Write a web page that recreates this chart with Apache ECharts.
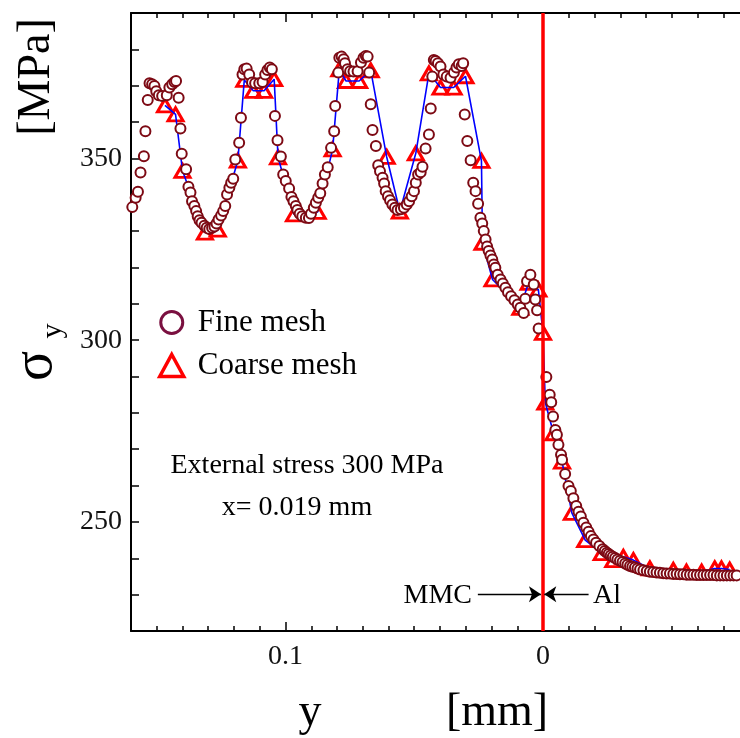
<!DOCTYPE html>
<html>
<head>
<meta charset="utf-8">
<script src="https://cdn.jsdelivr.net/npm/echarts@6/dist/echarts.min.js"></script>
<style>
  html, body { margin: 0; padding: 0; background: #fff; }
  #chart { width: 740px; height: 738px; }
</style>
</head>
<body>
<div id="chart"></div>
<script>
// sigma_y [MPa] versus distance y [mm] from the MMC/Al interface (x = 0.019 mm)
const fineMesh = [
  [0.1595,336.6],[0.1582,339.2],[0.1573,340.8],[0.1563,346.1],[0.1550,350.6],[0.1544,357.5],
  [0.1535,366.1],[0.1528,370.7],[0.1518,370.4],[0.1509,369.9],[0.1502,368.5],[0.1492,367.4],
  [0.1479,367.2],[0.1461,367.4],[0.1451,369.5],[0.1440,370.4],[0.1431,371.0],[0.1425,371.3],
  [0.1415,366.7],[0.1408,358.2],[0.1403,351.3],[0.1386,347.0],[0.1377,342.2],[0.1369,340.6],
  [0.1363,338.2],[0.1354,336.9],[0.1347,335.5],[0.1341,334.1],[0.1334,333.0],[0.1326,332.3],
  [0.1315,331.5],[0.1306,330.9],[0.1296,330.6],[0.1285,330.9],[0.1276,331.3],[0.1268,332.1],
  [0.1260,333.2],[0.1250,334.3],[0.1242,335.5],[0.1234,336.9],[0.1227,340.1],[0.1218,341.9],
  [0.1211,343.3],[0.1203,344.4],[0.1195,349.7],[0.1180,354.3],[0.1173,361.2],[0.1167,373.1],
  [0.1160,374.5],[0.1151,374.7],[0.1141,373.1],[0.1130,370.9],[0.1118,370.7],[0.1102,370.7],
  [0.1089,371.0],[0.1079,373.1],[0.1070,374.3],[0.1061,375.0],[0.1053,374.5],[0.1041,361.7],
  [0.1031,355.0],[0.1018,350.5],[0.1009,345.6],[0.0999,343.8],[0.0986,341.7],[0.0977,339.4],
  [0.0969,338.2],[0.0960,336.9],[0.0954,335.8],[0.0945,334.8],[0.0935,334.1],[0.0921,333.7],
  [0.0909,333.6],[0.0901,334.8],[0.0890,336.4],[0.0882,337.8],[0.0873,339.2],[0.0865,340.4],
  [0.0856,343.1],[0.0847,345.6],[0.0836,347.6],[0.0823,352.9],[0.0811,357.5],[0.0807,364.4],
  [0.0795,373.6],[0.0791,377.7],[0.0782,378.0],[0.0774,377.3],[0.0769,376.2],[0.0759,374.5],
  [0.0749,374.0],[0.0736,373.9],[0.0720,374.0],[0.0707,376.4],[0.0697,377.7],[0.0688,378.2],
  [0.0681,378.0],[0.0675,373.6],[0.0669,364.9],[0.0662,357.8],[0.0649,353.4],[0.0640,348.1],
  [0.0633,346.5],[0.0623,344.7],[0.0617,343.1],[0.0611,341.0],[0.0602,339.6],[0.0594,338.5],
  [0.0585,337.3],[0.0575,336.4],[0.0565,335.8],[0.0552,336.0],[0.0540,336.4],[0.0529,337.3],
  [0.0520,338.2],[0.0510,339.6],[0.0501,341.0],[0.0494,343.3],[0.0485,345.6],[0.0475,346.2],
  [0.0468,347.7],[0.0456,352.7],[0.0443,356.6],[0.0436,363.7],[0.0430,372.5],[0.0424,377.1],
  [0.0417,376.8],[0.0408,376.2],[0.0398,375.3],[0.0387,373.1],[0.0374,372.5],[0.0359,372.2],
  [0.0346,373.6],[0.0336,375.0],[0.0327,375.9],[0.0316,375.4],[0.0310,376.2],[0.0304,362.1],
  [0.0294,354.8],[0.0281,349.5],[0.0271,343.3],[0.0262,341.0],[0.0252,337.5],[0.0243,333.7],
  [0.0236,332.1],[0.0230,330.0],[0.0223,327.7],[0.0217,325.8],[0.0211,324.5],[0.0204,323.3],
  [0.0197,322.2],[0.0191,320.8],[0.0185,319.9],[0.0176,318.0],[0.0165,316.7],[0.0156,315.6],
  [0.0146,314.4],[0.0136,313.2],[0.0124,312.1],[0.0111,311.0],[0.0098,309.8],[0.0088,308.9],
  [0.0075,307.5],[0.0069,311.4],[0.0062,316.2],[0.0049,318.0],[0.0036,315.3],[0.0030,311.2],
  [0.0023,308.2],[0.0017,303.2],[-0.0013,289.9],[-0.0026,285.0],[-0.0032,282.9],[-0.0039,279.0],
  [-0.0048,275.3],[-0.0054,274.0],[-0.0060,271.2],[-0.0070,268.5],[-0.0074,267.1],[-0.0086,263.2],
  [-0.0099,259.9],[-0.0108,258.5],[-0.0118,256.5],[-0.0129,254.4],[-0.0138,252.8],[-0.0147,251.5],
  [-0.0157,249.8],[-0.0168,248.5],[-0.0177,247.3],[-0.0186,246.1],[-0.0196,245.2],[-0.0206,244.3],
  [-0.0219,243.4],[-0.0232,242.5],[-0.0240,242.0],[-0.0248,241.5],[-0.0255,241.2],[-0.0263,240.8],
  [-0.0271,240.4],[-0.0280,240.1],[-0.0289,239.7],[-0.0299,239.3],[-0.0309,239.0],[-0.0319,238.6],
  [-0.0328,238.2],[-0.0338,237.9],[-0.0347,237.7],[-0.0357,237.5],[-0.0367,237.2],[-0.0377,236.9],
  [-0.0390,236.7],[-0.0403,236.5],[-0.0415,236.3],[-0.0428,236.2],[-0.0441,236.1],[-0.0454,236.0],
  [-0.0467,235.9],[-0.0480,235.8],[-0.0493,235.8],[-0.0506,235.7],[-0.0519,235.7],[-0.0532,235.6],
  [-0.0545,235.6],[-0.0558,235.5],[-0.0571,235.5],[-0.0584,235.5],[-0.0597,235.4],[-0.0610,235.4],
  [-0.0623,235.4],[-0.0636,235.4],[-0.0649,235.4],[-0.0662,235.4],[-0.0675,235.3],[-0.0688,235.3],
  [-0.0701,235.3],[-0.0714,235.3],[-0.0727,235.3],[-0.0740,235.3],[-0.0752,235.3]
];

const coarseMesh = [
  [0.1468,364.6],[0.1427,362.1],[0.1400,346.6],[0.1313,329.6],[0.1263,330.4],[0.1185,349.4],
  [0.1160,371.6],[0.1125,368.6],[0.1083,368.6],[0.1044,371.8],[0.1029,350.3],[0.0967,334.6],
  [0.0875,335.3],[0.0817,352.5],[0.0791,374.5],[0.0765,371.3],[0.0714,371.3],[0.0669,374.2],
  [0.0607,350.4],[0.0556,335.4],[0.0494,351.4],[0.0443,373.4],[0.0398,369.5],[0.0347,369.5],
  [0.0301,372.6],[0.0239,349.3],[0.0235,326.8],[0.0196,316.7],[0.0088,308.9],[0.0056,315.8],
  [0.0018,313.9],[0.0000,302.0],[-0.0009,282.8],[-0.0041,274.4],[-0.0074,266.6],[-0.0112,252.5],
  [-0.0164,245.0],[-0.0228,241.4],[-0.0273,239.5],[-0.0312,240.4],[-0.0351,239.5],[-0.0415,237.2],
  [-0.0506,236.8],[-0.0557,236.3],[-0.0616,236.3],[-0.0667,237.2],[-0.0693,237.2],[-0.0725,236.9]
];

// axis ranges and labelled ticks
const xRange = [-0.08, 0.16];
const xLabelTicks = [0.1, 0];
const yRange = [220, 390];
const yLabelTicks = [250, 300, 350];

// interface position and the MMC / Al arrows
const interfaceY = 0;
const arrowSigma = 230.1;
const mmcArrow = [0.0253, 0.0008];
const alArrow = [-0.0177, -0.0005];

const SERIF = '"Liberation Serif", "Times New Roman", serif';
const FINE_COLOR = '#7d0a14';
const COARSE_COLOR = '#ff0000';

const isTick = (v, list) => list.some(t => Math.abs(v - t) < 1e-9);

// the frame runs past the right edge of the page
const gridBox = { left: 131, top: 13, width: 618, height: 618, outerBoundsMode: 'none', containLabel: false };

function xAxisDef(pos, withLabels, major) {
  const a = {
    type: 'value', position: pos, min: xRange[0], max: xRange[1], inverse: true,
    gridIndex: 0, splitLine: { show: false },
    axisLine: { show: !major, onZero: false, lineStyle: { color: '#000', width: 2 } },
    axisTick: { show: true, inside: true, length: major ? 9 : 5, lineStyle: { color: '#000', width: 1.5 } },
    axisLabel: { show: false }
  };
  if (major) {
    a.axisTick.customValues = xLabelTicks;
    if (withLabels) {
      a.axisLabel = { show: true, customValues: xLabelTicks, margin: 12, color: '#111',
        fontFamily: SERIF, fontSize: 28,
        formatter: v => (isTick(v, [0]) ? '0' : '0.1') };
    }
  } else {
    a.interval = 0.01;
  }
  return a;
}

function yAxisDef(pos) {
  return {
    type: 'value', position: pos, min: yRange[0], max: yRange[1], interval: 10,
    splitLine: { show: false },
    axisLine: { show: true, onZero: false, lineStyle: { color: '#000', width: 2 } },
    axisTick: { show: true, inside: true, length: 8, lineStyle: { color: '#000', width: 1.5 } },
    axisLabel: { show: pos === 'left', margin: 9, color: '#111', fontFamily: SERIF, fontSize: 28,
      formatter: v => (isTick(v, yLabelTicks) ? String(v) : '') }
  };
}

const chart = echarts.init(document.getElementById('chart'), null, { renderer: 'canvas' });

chart.setOption({
  animation: false,
  backgroundColor: '#fff',
  grid: gridBox,
  xAxis: [
    xAxisDef('bottom', false, false),
    xAxisDef('bottom', true, true),
    xAxisDef('top', false, false),
    xAxisDef('top', false, true)
  ],
  yAxis: [yAxisDef('left'), yAxisDef('right')],
  legend: {
    orient: 'vertical', left: 158, top: 307, padding: 0,
    itemWidth: 24, itemHeight: 22, itemGap: 12,
    textStyle: { fontFamily: SERIF, fontSize: 31, color: '#000', lineHeight: 31, padding: [0, 0, 0, 9] },
    data: [
      { name: 'Fine mesh', icon: 'circle',
        itemStyle: { color: '#fff', borderColor: '#7a1040', borderWidth: 3 } },
      { name: 'Coarse mesh', icon: 'triangle',
        itemStyle: { color: '#fff', borderColor: COARSE_COLOR, borderWidth: 3.5 } }
    ]
  },
  series: [
    {
      name: 'Coarse mesh', type: 'scatter', xAxisIndex: 0, yAxisIndex: 0,
      data: coarseMesh, symbol: 'triangle', symbolSize: [15, 13], z: 2,
      itemStyle: { color: 'rgba(255,255,255,0)', borderColor: COARSE_COLOR, borderWidth: 3, opacity: 1 }
    },
    {
      name: 'coarse-line', type: 'line', xAxisIndex: 0, yAxisIndex: 0,
      data: coarseMesh, showSymbol: false, symbol: 'none', z: 3,
      lineStyle: { color: '#0000ff', width: 1.6 }
    },
    {
      name: 'Fine mesh', type: 'scatter', xAxisIndex: 0, yAxisIndex: 0,
      data: fineMesh, symbol: 'circle', symbolSize: 10, z: 4,
      itemStyle: { color: '#fff', borderColor: FINE_COLOR, borderWidth: 2, opacity: 1 }
    },
    {
      name: 'annotations', type: 'line', xAxisIndex: 0, yAxisIndex: 0, data: [], z: 6,
      markLine: {
        silent: true, animation: false, label: { show: false },
        symbol: ['none', 'none'],
        data: [
          { xAxis: interfaceY, lineStyle: { color: '#ff0000', width: 3.5, type: 'solid' } },
          [
            { coord: [mmcArrow[0], arrowSigma], symbol: 'none' },
            { coord: [mmcArrow[1], arrowSigma], symbol: 'arrow', symbolSize: 12 }
          ],
          [
            { coord: [alArrow[0], arrowSigma], symbol: 'none' },
            { coord: [alArrow[1], arrowSigma], symbol: 'arrow', symbolSize: 12 }
          ]
        ],
        lineStyle: { color: '#000', width: 1.3, type: 'solid' }
      }
    }
  ],
  graphic: [
    { type: 'text', x: 307, y: 466, style: { text: 'External stress 300 MPa', font: '28px ' + SERIF, fill: '#000', textAlign: 'center', textVerticalAlign: 'middle' } },
    { type: 'text', x: 297, y: 508, style: { text: 'x= 0.019 mm', font: '28px ' + SERIF, fill: '#000', textAlign: 'center', textVerticalAlign: 'middle' } },
    { type: 'text', x: 472, y: 596, style: { text: 'MMC', font: '28px ' + SERIF, fill: '#000', textAlign: 'right', textVerticalAlign: 'middle' } },
    { type: 'text', x: 593, y: 596, style: { text: 'Al', font: '28px ' + SERIF, fill: '#000', textAlign: 'left', textVerticalAlign: 'middle' } },
    { type: 'text', x: 310, y: 713, style: { text: 'y', font: '46px ' + SERIF, fill: '#000', textAlign: 'center', textVerticalAlign: 'middle' } },
    { type: 'text', x: 497, y: 713, style: { text: '[mm]', font: '46px ' + SERIF, fill: '#000', textAlign: 'center', textVerticalAlign: 'middle' } },
    { type: 'text', x: 37, y: 77, rotation: Math.PI / 2, style: { text: '[MPa]', font: '46px ' + SERIF, fill: '#000', textAlign: 'center', textVerticalAlign: 'middle' } },
    { type: 'text', x: 36, y: 366, rotation: Math.PI / 2, style: { text: 'σ', font: '56px ' + SERIF, fill: '#000', textAlign: 'center', textVerticalAlign: 'middle' } },
    { type: 'text', x: 53, y: 331, rotation: Math.PI / 2, style: { text: 'y', font: '30px ' + SERIF, fill: '#000', textAlign: 'center', textVerticalAlign: 'middle' } }
  ]
});
</script>
</body>
</html>
